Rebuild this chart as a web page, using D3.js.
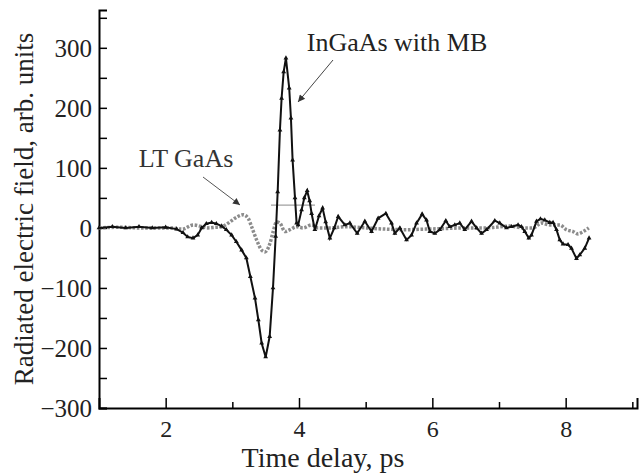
<!DOCTYPE html>
<html>
<head>
<meta charset="utf-8">
<script src="https://cdn.jsdelivr.net/npm/d3@7.9.0/dist/d3.min.js"></script>
<style>
  body { margin: 0; background: #fff; }
  svg { display: block; }
  svg text { font-family: "Liberation Serif", "Times New Roman", serif !important; }
</style>
</head>
<body>
<svg id="chart" width="643" height="473"></svg>
<script>
// InGaAs with MB (black, triangles)
const ingaasT = [1.0, 1.2, 1.4, 1.6, 1.8, 2.0, 2.165, 2.26, 2.33, 2.41, 2.48, 2.54, 2.61, 2.69, 2.76, 2.84, 2.91, 2.99, 3.06, 3.14, 3.21, 3.27, 3.34, 3.39, 3.44, 3.50, 3.56, 3.61, 3.65, 3.68, 3.714, 3.739, 3.77, 3.804, 3.853, 3.879, 3.904, 3.94, 3.964, 3.988, 4.039, 4.08, 4.123, 4.16, 4.189, 4.238, 4.30, 4.354, 4.40, 4.463, 4.53, 4.588, 4.688, 4.763, 4.873, 4.988, 5.088, 5.187, 5.303, 5.388, 5.438, 5.513, 5.613, 5.688, 5.763, 5.847, 5.913, 5.963, 6.037, 6.112, 6.202, 6.262, 6.337, 6.412, 6.487, 6.588, 6.663, 6.738, 6.813, 6.937, 7.012, 7.112, 7.187, 7.286, 7.337, 7.387, 7.447, 7.487, 7.562, 7.622, 7.687, 7.762, 7.811, 7.862, 7.912, 7.961, 8.036, 8.087, 8.162, 8.211, 8.286, 8.351];
const ingaasE = [0, 2, 0, 2, 0, 1, -2, -8, -15, -17, -12, 0, 7, 9, 7, 3, -3, -12, -23, -37, -50, -81, -117, -153, -192, -215, -181, -100, -14, 60, 163, 216, 260, 283, 233, 183, 113, 50, 8, 5, 30, 50, 62, 45, 24, -3, 20, 33, 10, -17, 0, 19, 5, 8, -9, 11, -6, 16, 24, 8, -9, 0, -20, -12, 8, 23, 13, -6, -9, -3, 12, 2, 5, 8, -3, 11, 0, -9, -3, 12, 8, 0, 2, 5, 2, -6, -17, -12, 11, 15, 13, 9, 9, -3, -20, -27, -28, -34, -51, -45, -34, -17];

// LT GaAs (gray, dots)
const ltT = [1.0, 1.3, 1.6, 1.765, 2.064, 2.25, 2.414, 2.514, 2.634, 2.739, 2.84, 2.939, 3.039, 3.163, 3.238, 3.289, 3.364, 3.439, 3.489, 3.564, 3.613, 3.664, 3.714, 3.789, 3.864, 3.964, 4.063, 4.189, 4.288, 4.463, 4.713, 5.0, 5.3, 5.6, 5.9, 6.2, 6.5, 6.8, 7.162, 7.36, 7.51, 7.637, 7.762, 7.912, 8.012, 8.112, 8.187, 8.262, 8.347];
const ltE = [0, 1, 0, 0, 0, -2, 5, 3, 0, 1, 2, 8, 16, 22, 16, 2, -20, -37, -40, -26, -6, 10, 8, -6, -3, 2, 0, 5, 0, 0, 2, 0, -2, -3, -2, -1, 0, 0, 3, 0, 0, 8, 5, 5, -3, -6, -10, -6, 0];

// stray reference line seen in the plot
const refLineT = [3.58, 4.24];
const refLineE = [38, 38];

const xMajor = [2, 4, 6, 8];
const xMinor = [3, 5, 7, 9];
const yMajor = [-300, -200, -100, 0, 100, 200, 300];
const yMinor = [-250, -150, -50, 50, 150, 250, 350];

const svg = d3.select("#chart");
const x = d3.scaleLinear().domain([1, 9.07]).range([99, 637]);
const y = d3.scaleLinear().domain([-300, 363]).range([408, 10]);

const fmt = (v) => (v < 0 ? "\u2212" + Math.abs(v) : String(v));

// x axis
const xAxis = svg.append("g").attr("transform", `translate(0,${y(-300)})`);
xAxis.call(d3.axisBottom(x).tickValues(xMajor).tickSize(-10).tickPadding(12).tickFormat(fmt));
svg.append("g").attr("transform", `translate(0,${y(-300)})`)
  .call(d3.axisBottom(x).tickValues(xMinor).tickSize(-6).tickFormat(""))
  .select(".domain").remove();

// y axis
const yAxis = svg.append("g").attr("transform", `translate(${x(1)},0)`);
yAxis.call(d3.axisLeft(y).tickValues(yMajor).tickSize(-8).tickPadding(7).tickFormat(fmt));
svg.append("g").attr("transform", `translate(${x(1)},0)`)
  .call(d3.axisLeft(y).tickValues(yMinor).tickSize(-8).tickFormat(""))
  .select(".domain").remove();

svg.selectAll(".domain").attr("stroke", "#000").attr("stroke-width", 2);
svg.selectAll(".tick line").attr("stroke", "#000").attr("stroke-width", 1.5);
svg.selectAll(".tick text")
  .attr("fill", "#222")
  .attr("font-size", 25);
xAxis.selectAll(".tick text").attr("font-size", 24).attr("dy", "0.71em");
yAxis.selectAll(".tick text").attr("dy", "0.34em");

// axis titles
svg.append("text")
  .attr("x", 323).attr("y", 467)
  .attr("text-anchor", "middle")
  .attr("font-size", 28).attr("fill", "#222")
  .text("Time delay, ps");

svg.append("text")
  .attr("transform", "translate(33,209) rotate(-90)")
  .attr("text-anchor", "middle")
  .attr("font-size", 27).attr("fill", "#222")
  .text("Radiated electric field, arb. units");

const line = d3.line().x((d) => x(d[0])).y((d) => y(d[1]));

// thin reference line
svg.append("path")
  .datum(d3.zip(refLineT, refLineE))
  .attr("d", line)
  .attr("fill", "none")
  .attr("stroke", "#888")
  .attr("stroke-width", 1);

// LT GaAs
const lt = d3.zip(ltT, ltE);
svg.append("path")
  .datum(lt)
  .attr("d", d3.line().x((d) => x(d[0])).y((d) => y(d[1])).curve(d3.curveMonotoneX))
  .attr("fill", "none")
  .attr("stroke", "#8c8c8c")
  .attr("stroke-width", 3.5)
  .attr("stroke-dasharray", "2.6,1.6");

// InGaAs
const ing = d3.zip(ingaasT, ingaasE);
svg.append("path")
  .datum(ing)
  .attr("d", line)
  .attr("fill", "none")
  .attr("stroke", "#111")
  .attr("stroke-width", 2);

svg.append("g").selectAll("path")
  .data(ing)
  .join("path")
  .attr("transform", (d) => `translate(${x(d[0])},${y(d[1])})`)
  .attr("d", d3.symbol(d3.symbolTriangle, 10))
  .attr("fill", "#111");

// annotations
const defs = svg.append("defs");
defs.append("marker")
  .attr("id", "arrow")
  .attr("viewBox", "0 0 10 10")
  .attr("refX", 10).attr("refY", 5)
  .attr("markerWidth", 10).attr("markerHeight", 7)
  .attr("markerUnits", "userSpaceOnUse")
  .attr("orient", "auto")
  .append("path")
  .attr("d", "M0,0L10,5L0,10z")
  .attr("fill", "#333");

svg.append("text")
  .attr("x", 397).attr("y", 51)
  .attr("text-anchor", "middle")
  .attr("font-size", 26).attr("fill", "#222")
  .text("InGaAs with MB");

svg.append("line")
  .attr("x1", 333).attr("y1", 60)
  .attr("x2", 298).attr("y2", 102)
  .attr("stroke", "#444").attr("stroke-width", 1)
  .attr("marker-end", "url(#arrow)");

svg.append("text")
  .attr("x", 186).attr("y", 167)
  .attr("text-anchor", "middle")
  .attr("font-size", 26).attr("fill", "#333")
  .text("LT GaAs");

svg.append("line")
  .attr("x1", 203).attr("y1", 177)
  .attr("x2", 240).attr("y2", 205)
  .attr("stroke", "#555").attr("stroke-width", 1)
  .attr("marker-end", "url(#arrow)");
</script>
</body>
</html>
